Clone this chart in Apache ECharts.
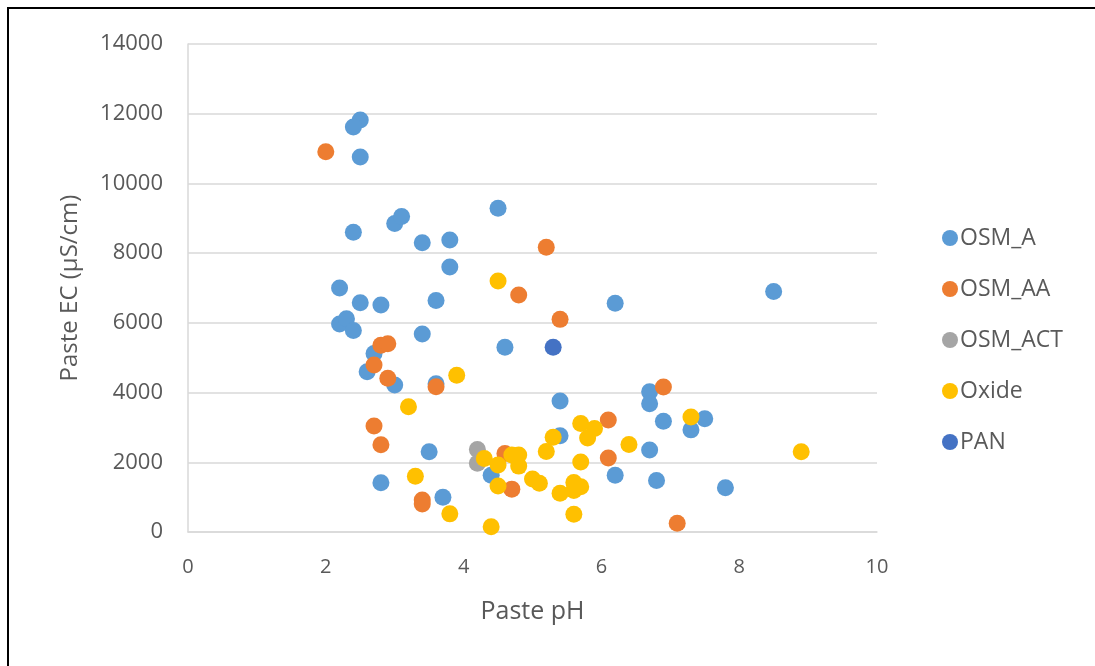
<!DOCTYPE html>
<html>
<head>
<meta charset="utf-8">
<script src="https://cdn.jsdelivr.net/npm/echarts@6/dist/echarts.min.js"></script>
<style>
  html, body { margin: 0; padding: 0; background: #fff; }
  #chart { width: 1095px; height: 666px; }
</style>
</head>
<body>
<div id="chart"></div>
<script>
// Paste pH vs. paste EC, grouped by sample type
const xTicks = [0, 2, 4, 6, 8, 10];
const yTicks = [0, 2000, 4000, 6000, 8000, 10000, 12000, 14000];

const osmA = [
  [2.5, 11820], [2.4, 11620], [2.5, 10760], [2.4, 8600], [3.0, 8850], [3.1, 9050],
  [3.4, 8300], [3.8, 8380], [4.5, 9290], [3.8, 7600], [2.2, 7000], [2.5, 6580],
  [2.8, 6510], [3.6, 6640], [2.2, 5970], [2.3, 6120], [2.4, 5780], [3.4, 5680],
  [4.6, 5300], [2.7, 5120], [2.6, 4600], [3.0, 4220], [3.6, 4250], [3.5, 2300],
  [2.8, 1410], [3.7, 1000], [4.4, 1630], [5.4, 3760], [5.4, 2760], [6.2, 1630],
  [6.7, 2350], [6.8, 1480], [6.7, 4020], [6.7, 3680], [6.9, 3180], [7.3, 2930],
  [6.2, 6560], [8.5, 6900], [7.5, 3250], [7.8, 1270]
];
const osmAA = [
  [2.0, 10910], [5.2, 8170], [4.8, 6800], [5.4, 6100], [2.8, 5360], [2.9, 5400],
  [2.7, 4790], [2.9, 4410], [3.6, 4170], [2.7, 3040], [2.8, 2500], [3.4, 920],
  [3.4, 800], [4.6, 2250], [4.7, 1230], [6.1, 3210], [6.1, 2120], [6.9, 4160],
  [7.1, 250]
];
const osmACT = [[4.2, 2370], [4.2, 1970]];
const oxide = [
  [4.5, 7200], [3.9, 4500], [3.2, 3590], [3.3, 1600], [3.8, 520], [4.4, 150],
  [4.3, 2110], [4.5, 1920], [4.5, 1320], [4.7, 2210], [4.8, 2210], [4.8, 1890],
  [5.0, 1520], [5.1, 1400], [5.2, 2310], [5.3, 2720], [5.7, 3110], [5.9, 2970],
  [5.8, 2700], [6.4, 2510], [5.7, 2010], [5.6, 1420], [5.7, 1300], [5.6, 1190],
  [5.4, 1110], [5.6, 510], [7.3, 3300], [8.9, 2300]
];
const pan = [[5.3, 5300]];

const seriesNames = ['OSM_A', 'OSM_AA', 'OSM_ACT', 'Oxide', 'PAN'];
const seriesData = [osmA, osmAA, osmACT, oxide, pan];
const seriesColors = ['#5B9BD5', '#ED7D31', '#A5A5A5', '#FFC000', '#4472C4'];

const font = '"Open Sans", "Liberation Sans", sans-serif';
const textColor = '#595959';

const chart = echarts.init(document.getElementById('chart'), null, { renderer: 'canvas' });
chart.setOption({
  animation: false,
  backgroundColor: '#ffffff',
  color: seriesColors,
  graphic: [{
    type: 'rect',
    shape: { x: 8, y: 8, width: 1200, height: 800 },
    style: { fill: 'none', stroke: '#000', lineWidth: 2 },
    silent: true
  }],
  grid: { left: 188, top: 44, width: 689, height: 488, containLabel: false },
  legend: {
    orient: 'vertical',
    left: 937,
    top: 221,
    itemGap: 27,
    itemWidth: 16,
    itemHeight: 16,
    icon: 'circle',
    data: seriesNames,
    textStyle: { fontFamily: font, fontSize: 23, lineHeight: 24, color: textColor, padding: [0, 0, 0, -3] }
  },
  xAxis: {
    type: 'value',
    min: xTicks[0],
    max: xTicks[xTicks.length - 1],
    interval: 2,
    name: 'Paste pH',
    nameLocation: 'middle',
    nameGap: 67,
    nameTextStyle: { fontFamily: font, fontSize: 25, color: textColor },
    axisLine: { show: true, lineStyle: { color: '#d9d9d9', width: 1.5 } },
    axisTick: { show: false },
    splitLine: { show: false },
    axisLabel: { fontFamily: font, fontSize: 20, color: textColor, margin: 25 }
  },
  yAxis: {
    type: 'value',
    min: yTicks[0],
    max: yTicks[yTicks.length - 1],
    interval: 2000,
    name: 'Paste EC (µS/cm)',
    nameLocation: 'middle',
    nameGap: 106,
    nameRotate: 90,
    nameTextStyle: { fontFamily: font, fontSize: 24, color: textColor },
    axisLine: { show: true, lineStyle: { color: '#d9d9d9', width: 1.5 } },
    axisTick: { show: false },
    splitLine: { show: true, lineStyle: { color: '#d9d9d9', width: 1.5 } },
    axisLabel: {
      fontFamily: font, fontSize: 22, color: textColor, margin: 25,
      formatter: (v) => String(v)
    }
  },
  series: seriesNames.map((name, i) => ({
    name: name,
    type: 'scatter',
    data: seriesData[i],
    symbol: 'circle',
    symbolSize: 17,
    itemStyle: { color: seriesColors[i], opacity: 1 }
  }))
});
</script>
</body>
</html>
